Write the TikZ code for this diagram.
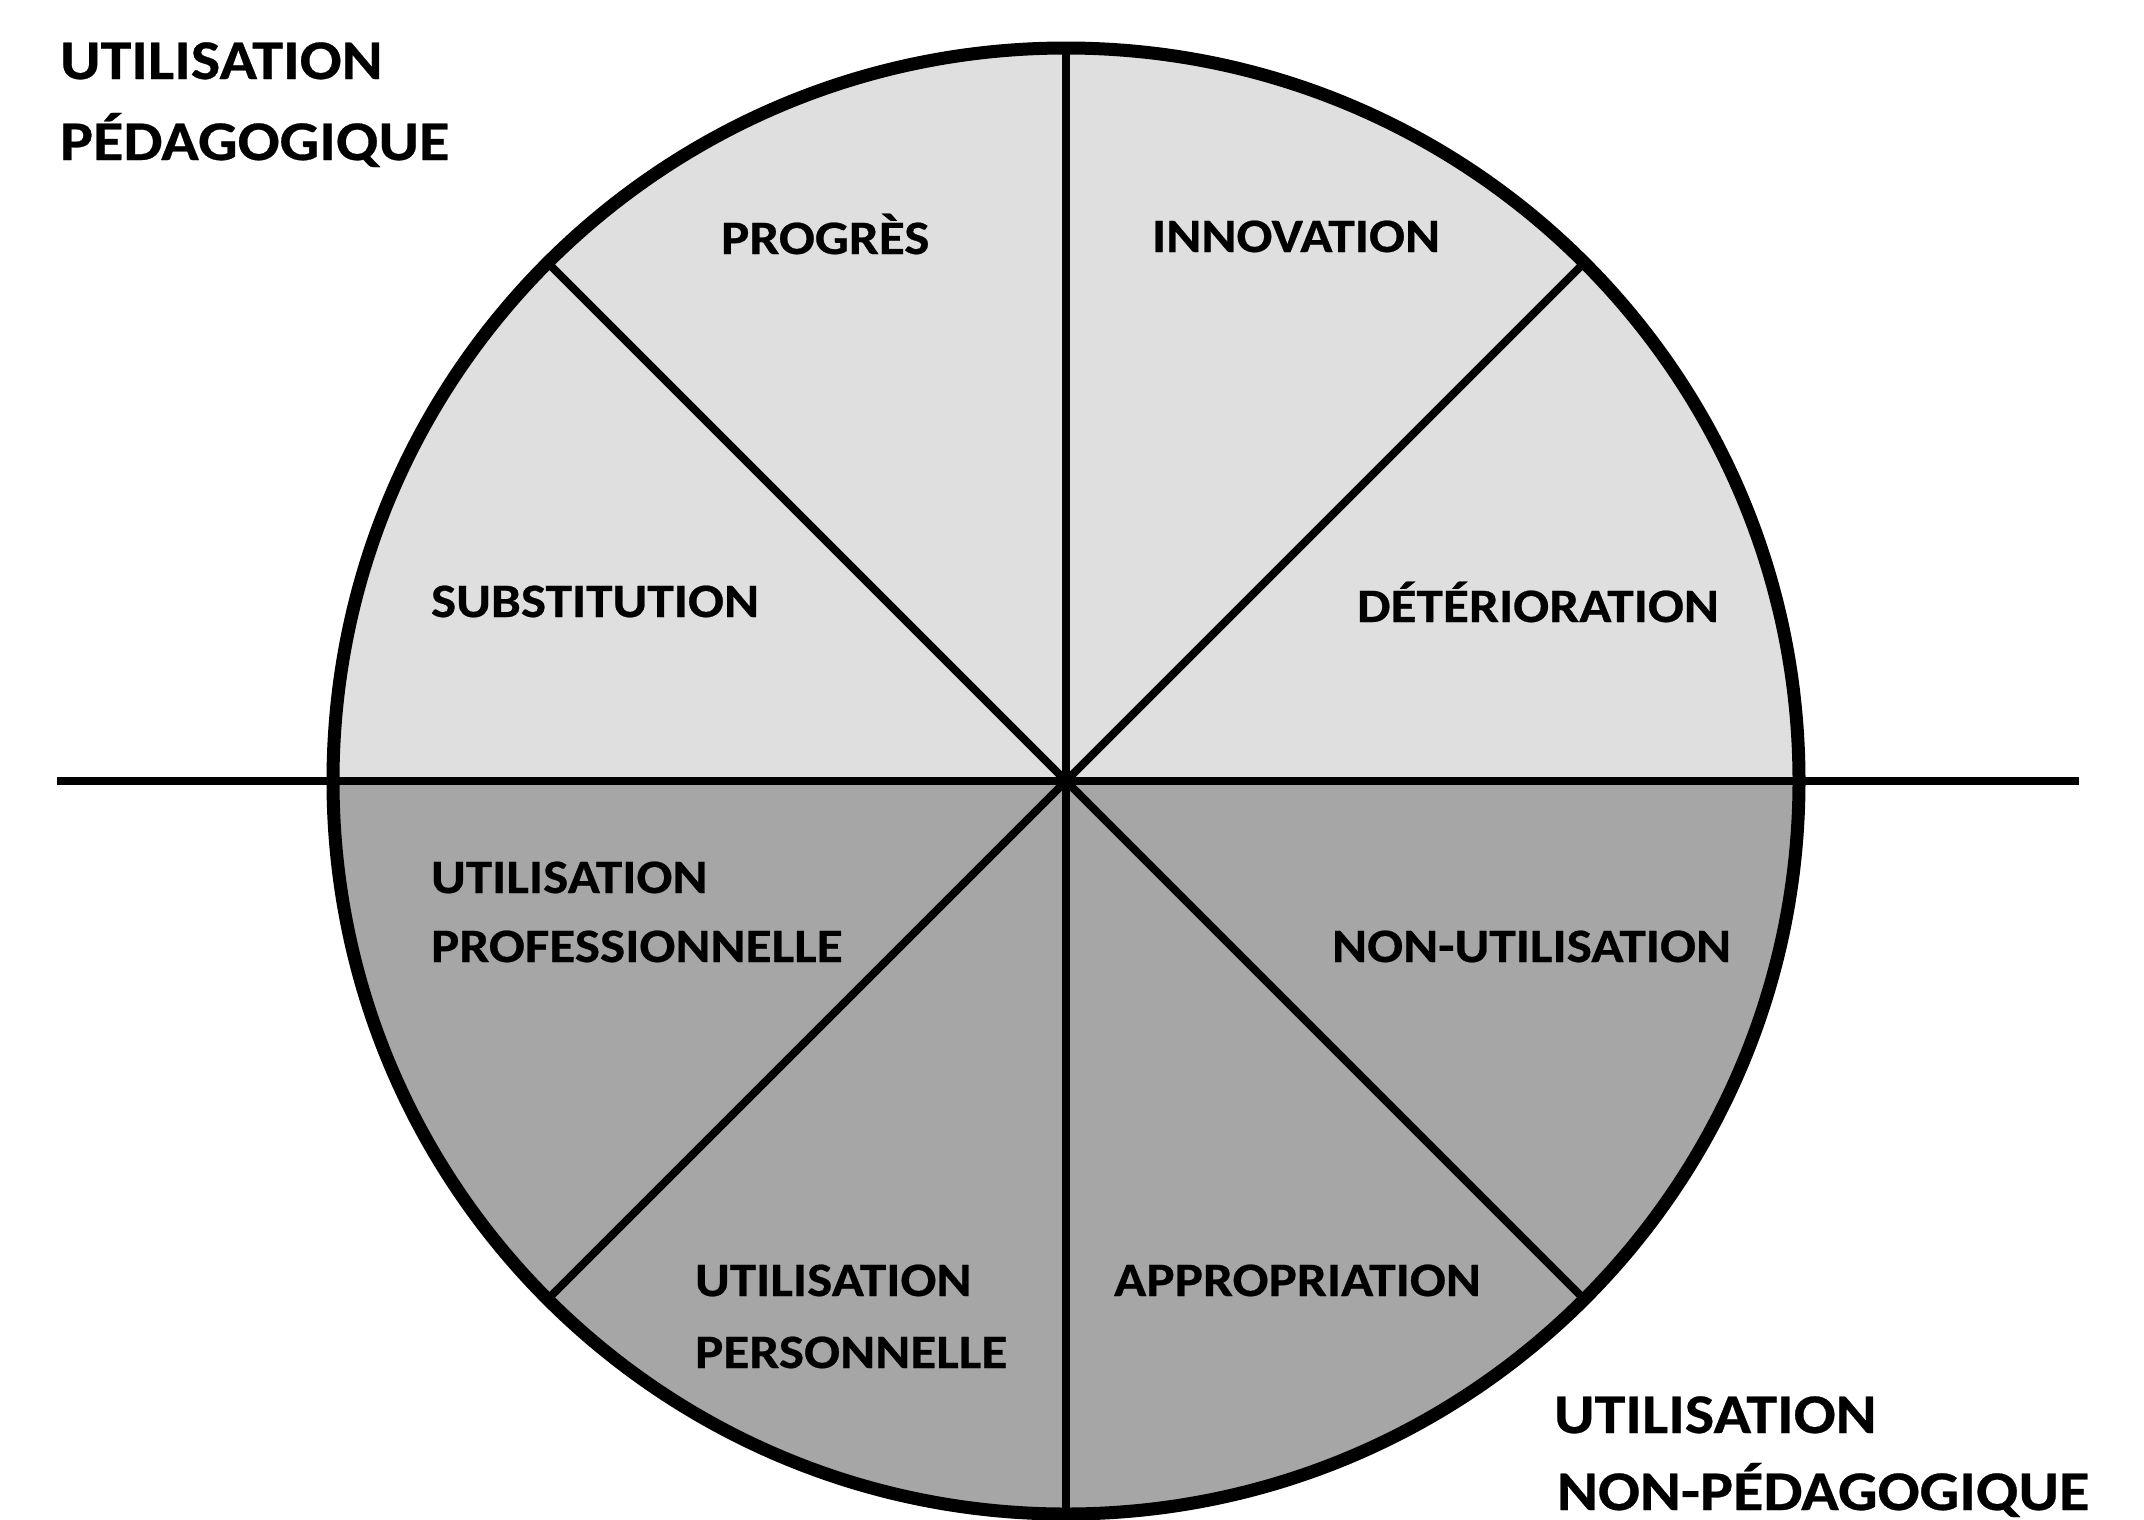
\documentclass[tikz,border=0pt]{standalone}
\usepackage{fontspec}
\setmainfont{Carlito}[FakeStretch=1.11,BoldFeatures={FakeStretch=1.11,FakeBold=0.5}]
\definecolor{upperfill}{RGB}{223,223,223}
\definecolor{lowerfill}{RGB}{166,166,166}
\begin{document}
\begin{tikzpicture}[x=1pt,y=-1pt,
  spoke/.style={line width=8pt},
  lab/.style={anchor=base west,inner sep=0pt,outer sep=0pt,font=\fontsize{48}{48}\selectfont\bfseries},
  biglab/.style={anchor=base west,inner sep=0pt,outer sep=0pt,font=\fontsize{56}{56}\selectfont\bfseries}]
\useasboundingbox (0,0) rectangle (2144,1519);
\coordinate (O) at (1066,781);
\fill[upperfill] (O) circle[radius=733];
\fill[lowerfill] (1799,781) arc[start angle=0,end angle=180,radius=733] -- cycle;
\node[circle,minimum size=1466pt,inner sep=0pt,outer sep=0pt] (ring) at (O) {};
\coordinate (L) at (57,781);
\coordinate (R) at (2079,781);
\draw[spoke] (L) -- (R);
\foreach \a in {45,90,135,225,270,315} \draw[spoke] (O) -- (ring.\a);
\draw[line width=13pt] (O) circle[radius=733];
% corner labels
\node[biglab] (tl1) at (60,79) {UTILISATION};
\node[biglab] (tl2) at (60,160) {PÉDAGOGIQUE};
\node[biglab] (br1) at (1554,1433) {UTILISATION};
\node[biglab] (br2) at (1557,1510) {NON-PÉDAGOGIQUE};
% sector labels
\node[lab] (prog) at (721,254) {PROGRÈS};
\node[lab] (inno) at (1152,252) {INNOVATION};
\node[lab] (subs) at (431,617) {SUBSTITUTION};
\node[lab] (dete) at (1357,622) {DÉTÉRIORATION};
\node[lab] (upro1) at (431,893) {UTILISATION};
\node[lab] (upro2) at (431,962) {PROFESSIONNELLE};
\node[lab] (nonu) at (1332,962) {NON-UTILISATION};
\node[lab] (uper1) at (695,1296) {UTILISATION};
\node[lab] (uper2) at (695,1368) {PERSONNELLE};
\node[lab] (appr) at (1114,1296) {APPROPRIATION};
\end{tikzpicture}
\end{document}
